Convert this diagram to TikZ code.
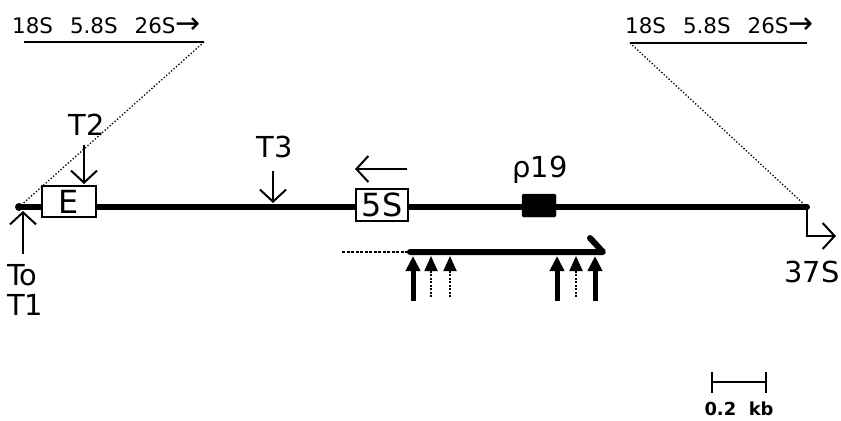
\documentclass[tikz,border=0pt]{standalone}
\usepackage{fontspec}
\setmainfont{DejaVu Sans}
\usetikzlibrary{arrows.meta}
\newcommand{\toptext}{18S\hspace{17bp}5.8S\hspace{17bp}26S{\fontsize{30}{30}\selectfont→}}
\begin{document}
\begin{tikzpicture}[x=1bp,y=-1bp,
  big/.style={font=\fontsize{29}{29}\selectfont, inner sep=0pt, anchor=base},
  toplbl/.style={font=\fontsize{21.5}{21.5}\selectfont, inner sep=0pt, anchor=base west},
  genebox/.style={draw, fill=white, line width=1.8bp, inner sep=0pt, font=\fontsize{32}{32}\selectfont},
  thinarr/.style={line width=2bp, -{Straight Barb[length=12bp,width=26bp,line width=2bp]}},
  solidup/.style={line width=5bp, -{Triangle[length=15bp,width=14bp]}},
  dashup/.style={line width=1.8bp, dash pattern=on 2bp off 1.5bp, -{Triangle[length=15bp,width=13bp]}},
  guide/.style={line width=1.3bp, dotted},
  rule/.style={line width=2.5bp}
]
\useasboundingbox (0,0) rectangle (841,420);

% main line
\coordinate (L) at (19,207);
\coordinate (R) at (807,207);
\draw[line width=6bp, line cap=round] (L) -- (R);
\fill (L) circle (4bp);

% top left / right labels
\node[toplbl] (tl) at (12,33) {\toptext};
\coordinate (tlA) at (24,42); \coordinate (tlB) at (204,42);
\draw[rule] (tlA) -- (tlB);
\node[toplbl] (tr) at (625,33) {\toptext};
\coordinate (trA) at (630,43); \coordinate (trB) at (807,43);
\draw[rule] (trA) -- (trB);

% dotted guides
\draw[guide] (tlB) -- (L);
\draw[guide] (trA) -- (R);

% boxes
\node[genebox, minimum width=54bp, minimum height=31bp] (E) at (69,201.5) {E};
\node[genebox, minimum width=52bp, minimum height=32bp] (S5) at (382,205) {5S};
\node[draw, fill=black, minimum width=34bp, minimum height=23bp, inner sep=0pt, rounded corners=1.5bp] (p19box) at (539,205.5) {};

% T2
\node[big] (T2) at (87,135) {T2};
\coordinate (T2a) at (84,145); \coordinate (T2b) at (84,184);
\draw[thinarr] (T2a) -- (T2b);

% T3
\node[big] (T3) at (275,157) {T3};
\coordinate (T3a) at (273,171); \coordinate (T3b) at (273,203);
\draw[thinarr] (T3a) -- (T3b);

% 5S direction arrow
\coordinate (d5a) at (407,169); \coordinate (d5b) at (355,169);
\draw[thinarr] (d5a) -- (d5b);

% rho19
\node[big] (rho) at (540,177) {ρ19};

% To / T1
\node[big, anchor=base west] (To) at (7,285) {To};
\node[big, anchor=base west] (T1) at (7,315) {T1};
\coordinate (Ta) at (23,254); \coordinate (Tb) at (23,211);
\draw[thinarr] (Ta) -- (Tb);

% 37S
\coordinate (b1) at (807,209); \coordinate (b2) at (807,236); \coordinate (b3) at (836,236);
\draw[thinarr] (b1) -- (b2) -- (b3);
\node[big] (S37) at (812,282) {37S};

% transcript
\coordinate (ds) at (342,252); \coordinate (tx0) at (410,252);
\coordinate (tx1) at (603,252); \coordinate (tx2) at (590,238);
\draw[line width=1.3bp, dash pattern=on 3bp off 1.5bp] (ds) -- (tx0);
\draw[line width=6bp, line cap=round, line join=round] (tx0) -- (tx1) -- (tx2);

% start-site arrows
\foreach \x in {413,557,595} \draw[solidup] (\x,301) -- (\x,256);
\foreach \x in {431,450,576} \draw[dashup] (\x,297) -- (\x,256);

% scale bar
\coordinate (s1) at (712,382); \coordinate (s2) at (766,382);
\draw[line width=2.2bp] (s1) -- (s2);
\draw[line width=2.2bp] (712,372) -- (712,393);
\draw[line width=2.2bp] (766,372) -- (766,393);
\node[inner sep=0pt, anchor=base, font=\fontsize{18}{18}\selectfont\bfseries] (kb) at (739,415) {0.2\ \ kb};
\end{tikzpicture}
\end{document}
